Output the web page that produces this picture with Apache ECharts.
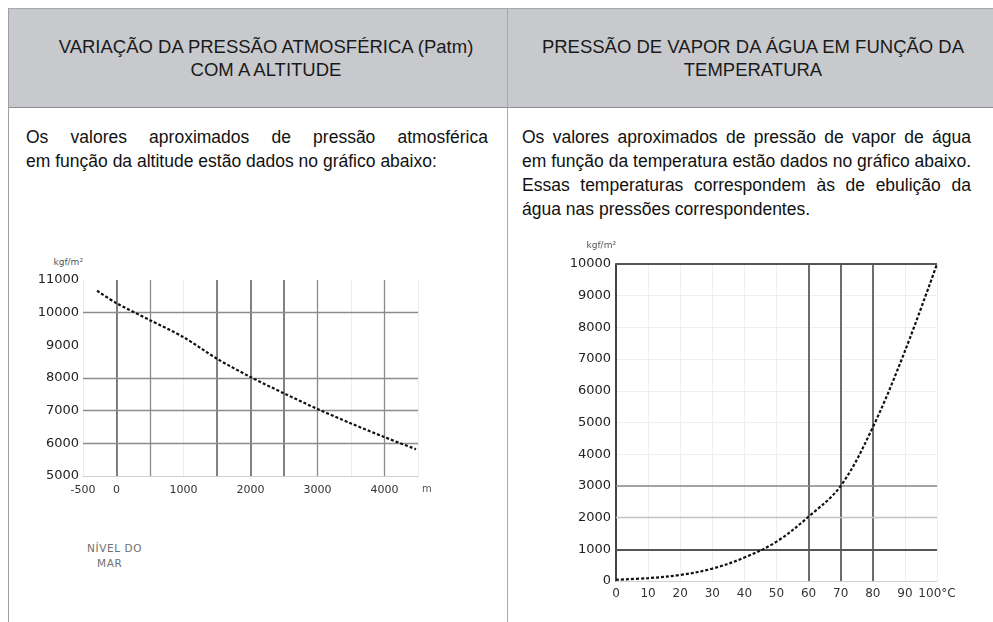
<!DOCTYPE html>
<html>
<head>
<meta charset="utf-8">
<script src="https://cdn.jsdelivr.net/npm/echarts@6/dist/echarts.min.js"></script>
<style>
  html, body { margin: 0; padding: 0; background: #fff; }
  body { width: 993px; height: 622px; position: relative; overflow: hidden; font-family: "Liberation Sans", Arial, sans-serif; color: #111; }
  .abs { position: absolute; }
  #hdr { left: 8px; top: 8px; width: 985px; height: 100px; background: #c8c9cd; border-top: 1px solid #a8a8ac; border-bottom: 1px solid #8c8c90; box-sizing: border-box; }
  #vl { left: 8px; top: 8px; width: 1px; height: 614px; background: #a0a0a4; }
  #vm { left: 507px; top: 8px; width: 1px; height: 614px; background: #a8a8ac; }
  .htxt { top: 35px; font-size: 18.5px; line-height: 23px; text-align: center; color: #1a1a1a; white-space: nowrap; }
  .btxt { top: 125px; font-size: 17.5px; line-height: 24px; color: #111; }
  .ln { display: flex; white-space: nowrap; }
  .ln.j { justify-content: space-between; }
  .ln.n span + span { margin-left: 0.28em; }
  #nivel { left: 87px; top: 541px; font-size: 10.5px; line-height: 15px; color: #707070; font-family: "DejaVu Sans", sans-serif; letter-spacing: 0.6px; }
  #unitL { left: 52px; top: 256px; width: 31px; text-align: right; font-size: 9px; line-height: 12px; color: #555; font-family: "DejaVu Sans", sans-serif; }
  #chart { left: 0; top: 0; width: 993px; height: 622px; }
</style>
</head>
<body>
<div id="hdr" class="abs"></div>
<div id="vl" class="abs"></div>
<div id="vm" class="abs"></div>
<div class="abs htxt" style="left:16px;width:500px;">VARIAÇÃO DA PRESSÃO ATMOSFÉRICA (Patm)<br>COM A ALTITUDE</div>
<div class="abs htxt" style="left:513px;width:480px;">PRESSÃO DE VAPOR DA ÁGUA EM FUNÇÃO DA<br>TEMPERATURA</div>
<div id="bl" class="abs btxt" style="left:26px;width:462px;"></div>
<div id="br" class="abs btxt" style="left:522px;width:449px;"></div>
<div id="nivel" class="abs">NÍVEL DO<br><span style="padding-left:10px">MAR</span></div>
<div id="unitL" class="abs">kgf/m²</div>
<div id="chart" class="abs"></div>
<script>
// ---- Paragraph text (one entry per printed line) ----
const textLeft = [
  'Os valores aproximados de pressão atmosférica',
  'em função da altitude estão dados no gráfico abaixo:'
];
const textRight = [
  'Os valores aproximados de pressão de vapor de água',
  'em função da temperatura estão dados no gráfico abaixo.',
  'Essas temperaturas correspondem às de ebulição da',
  'água nas pressões correspondentes.'
];

// ---- Left chart: atmospheric pressure vs altitude ----
const altitude = [-290, 0, 500, 1000, 1500, 2000, 2500, 3000, 3500, 4000, 4470];
const pressureAtm = [10670, 10290, 9770, 9250, 8590, 8030, 7530, 7050, 6610, 6190, 5820];
const altLabels = [-500, 0, 1000, 2000, 3000, 4000];
const altStrongLines = [0, 1500, 2000, 2500];
const altMediumLines = [500, 3000, 4000];
const presLines = [10000, 8000, 7000, 6000];

// ---- Right chart: water vapour pressure vs temperature ----
const temperature = [0, 10, 20, 30, 40, 50, 60, 70, 80, 90, 100];
const vaporPressure = [40, 90, 190, 390, 740, 1240, 2030, 3000, 4850, 7250, 10000];
const tempStrongLines = [60, 70, 80];
const vaporStrongLines = [1000, 10000];
const vaporMediumLines = [3000];
const vaporLightLines = [2000];

function fillPara(el, lines) {
  lines.forEach((line, i) => {
    const d = document.createElement('div');
    d.className = 'ln ' + (i < lines.length - 1 ? 'j' : 'n');
    line.split(' ').forEach(w => {
      const s = document.createElement('span');
      s.textContent = w;
      d.appendChild(s);
    });
    el.appendChild(d);
  });
}
fillPara(document.getElementById('bl'), textLeft);
fillPara(document.getElementById('br'), textRight);

const labelFont = '"DejaVu Sans", sans-serif';
const chart = echarts.init(document.getElementById('chart'), null, { renderer: 'canvas' });

function lines(axisKey, values, color, width) {
  return values.map(v => ({ [axisKey]: v, lineStyle: { color: color, width: width, type: 'solid' } }));
}

const option = {
  animation: false,
  backgroundColor: 'transparent',
  grid: [
    { left: 83, top: 280, width: 335, height: 196, containLabel: false, outerBoundsMode: 'none' },
    { left: 616, top: 264, width: 321, height: 317, containLabel: false, outerBoundsMode: 'none' }
  ],
  xAxis: [
    {
      gridIndex: 0, type: 'value', min: -500, max: 4500, interval: 500,
      name: 'm', nameLocation: 'end', nameGap: 4, nameMoveOverlap: false,
      nameTextStyle: { fontFamily: labelFont, fontSize: 10, color: '#555', verticalAlign: 'top', padding: [8, 0, 0, 0] },
      axisLine: { show: true, lineStyle: { color: '#d0d0d0', width: 1 } },
      axisTick: { show: false },
      axisLabel: {
        margin: 9, fontFamily: labelFont, fontSize: 11, color: '#333',
        formatter: v => altLabels.indexOf(v) >= 0 ? String(v) : ''
      },
      splitLine: { show: true, lineStyle: { color: '#ececec', width: 1 } }
    },
    {
      gridIndex: 1, type: 'value', min: 0, max: 100, interval: 10,
      axisLine: { show: true, lineStyle: { color: '#d0d0d0', width: 1 } },
      axisTick: { show: false },
      axisLabel: {
        margin: 7, fontFamily: labelFont, fontSize: 12, color: '#333',
        formatter: v => v === 100 ? '100°C' : String(v)
      },
      splitLine: { show: true, lineStyle: { color: '#eeeeee', width: 1 } }
    }
  ],
  yAxis: [
    {
      gridIndex: 0, type: 'value', min: 5000, max: 11000, interval: 1000,
      axisLine: { show: true, lineStyle: { color: '#d0d0d0', width: 1 } },
      axisTick: { show: false },
      axisLabel: { margin: 4, fontFamily: labelFont, fontSize: 13, color: '#222', formatter: v => String(v) },
      splitLine: { show: false }
    },
    {
      gridIndex: 1, type: 'value', min: 0, max: 10000, interval: 1000,
      name: 'kgf/m²', nameLocation: 'end', nameGap: 14, nameMoveOverlap: false,
      nameTextStyle: { fontFamily: labelFont, fontSize: 9, color: '#555', align: 'right' },
      axisLine: { show: true, lineStyle: { color: '#444', width: 2 } },
      axisTick: { show: false },
      axisLabel: { margin: 5, fontFamily: labelFont, fontSize: 13, color: '#222', formatter: v => String(v) },
      splitLine: { show: true, lineStyle: { color: '#efefef', width: 1 } }
    }
  ],
  series: [
    {
      type: 'line', xAxisIndex: 0, yAxisIndex: 0, silent: true,
      data: [],
      markLine: {
        silent: true, symbol: ['none', 'none'], label: { show: false },
        data: [].concat(
          lines('xAxis', altStrongLines, '#5a5a5a', 1.5),
          lines('xAxis', altMediumLines, '#8a8a8a', 1.3),
          lines('yAxis', presLines, '#8c8c8c', 1.3)
        )
      }
    },
    {
      type: 'line', xAxisIndex: 0, yAxisIndex: 0, silent: true,
      data: altitude.map((a, i) => [a, pressureAtm[i]]),
      smooth: 0.3, showSymbol: false, symbol: 'none',
      lineStyle: { color: '#111', width: 2.2, type: [3, 2] },
      z: 5
    },
    {
      type: 'line', xAxisIndex: 1, yAxisIndex: 1, silent: true,
      data: [],
      markLine: {
        silent: true, symbol: ['none', 'none'], label: { show: false },
        data: [].concat(
          lines('xAxis', tempStrongLines, '#4a4a4a', 1.6),
          lines('yAxis', vaporStrongLines, '#555', 1.8),
          lines('yAxis', vaporMediumLines, '#888', 1.5),
          lines('yAxis', vaporLightLines, '#c4c4c4', 1.3)
        )
      }
    },
    {
      type: 'line', xAxisIndex: 1, yAxisIndex: 1, silent: true,
      data: temperature.map((t, i) => [t, vaporPressure[i]]),
      smooth: 0.35, showSymbol: false, symbol: 'none',
      lineStyle: { color: '#111', width: 2.2, type: [3, 2] },
      z: 5
    }
  ]
};
chart.setOption(option);
</script>
</body>
</html>
